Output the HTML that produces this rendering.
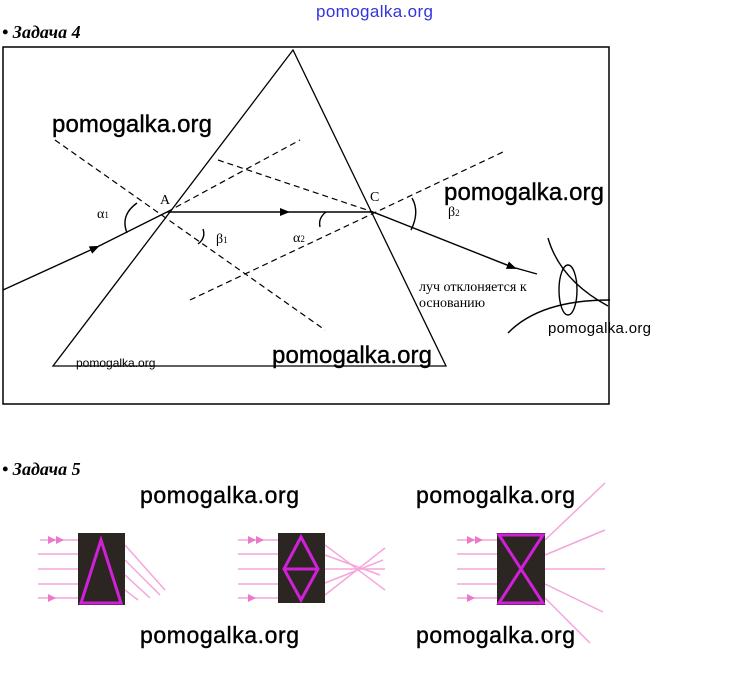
<!DOCTYPE html>
<html><head><meta charset="utf-8"><style>
body{margin:0;background:#fff;width:747px;height:688px;overflow:hidden;font-family:"Liberation Serif",serif}
</style></head><body>
<svg width="747" height="688" xmlns="http://www.w3.org/2000/svg" style="position:absolute;left:0;top:0">
<defs><marker id="ar" markerWidth="10" markerHeight="8" refX="5" refY="4" orient="auto" markerUnits="userSpaceOnUse"><path d="M0,0L10,4L0,8z" fill="#000"/></marker></defs>
<text x="316" y="17" font-family="Liberation Sans,sans-serif" font-size="17" fill="#3333dd" textLength="117">pomogalka.org</text>
<text x="2" y="38" font-size="18" font-weight="bold" font-style="italic">• Задача 4</text>
<rect x="3" y="47" width="606" height="357" fill="none" stroke="#000" stroke-width="1.5"/>
<path d="M293,50L53,366L446,366Z" fill="none" stroke="#000" stroke-width="1.3"/>
<g stroke="#000" stroke-width="1.2" stroke-dasharray="6,4" fill="none">
<line x1="55" y1="140" x2="325" y2="330"/><line x1="167" y1="212" x2="300" y2="140"/>
<line x1="218" y1="160" x2="373" y2="212"/><line x1="190" y1="300" x2="503" y2="152"/></g>
<g stroke="#000" stroke-width="1.4" fill="none">
<line x1="3" y1="290" x2="95" y2="248" marker-end="url(#ar)"/><line x1="95" y1="248" x2="167" y2="212"/>
<line x1="167" y1="212" x2="285" y2="212" marker-end="url(#ar)"/><line x1="285" y1="212" x2="373" y2="212"/>
<line x1="373" y1="212" x2="512" y2="267" marker-end="url(#ar)"/><line x1="512" y1="267" x2="537" y2="274"/>
<path d="M137,203Q120,215 127,233"/><path d="M203,229Q206,238 198,244"/><path d="M320,227Q318,218 326,212"/><path d="M412,198Q420,212 411,230"/>
<path d="M548,238Q560,280 608,306"/><ellipse cx="568" cy="290" rx="9" ry="25"/><path d="M508,333Q540,300 610,300"/></g>
<g font-size="14"><text x="160" y="204">A</text><text x="370" y="201">C</text>
<text x="97" y="218">α<tspan font-size="9">1</tspan></text><text x="216" y="243">β<tspan font-size="9">1</tspan></text>
<text x="293" y="242">α<tspan font-size="9">2</tspan></text><text x="448" y="216">β<tspan font-size="9">2</tspan></text>
<text x="419" y="291">луч отклоняется к</text><text x="419" y="307">основанию</text></g>
<g font-family="Liberation Sans,sans-serif" fill="#000" stroke="#000" stroke-width="0.4">
<text x="52" y="132" font-size="24" textLength="160">pomogalka.org</text><text x="444" y="200" font-size="24" textLength="160">pomogalka.org</text>
<text x="272" y="363" font-size="24" textLength="160">pomogalka.org</text><text x="76" y="367" font-size="12" stroke-width="0">pomogalka.org</text>
<text x="548" y="333" font-size="15" stroke-width="0" textLength="103">pomogalka.org</text>
<text x="140" y="503" font-size="23" textLength="159">pomogalka.org</text><text x="416" y="503" font-size="23" textLength="159">pomogalka.org</text>
<text x="140" y="643" font-size="23" textLength="159">pomogalka.org</text><text x="416" y="643" font-size="23" textLength="159">pomogalka.org</text></g>
<text x="2" y="475" font-size="18" font-weight="bold" font-style="italic">• Задача 5</text>
<g stroke="#f4a6dc" stroke-width="1.5" fill="none">
<line x1="38" y1="554" x2="78" y2="554"/><line x1="38" y1="569" x2="78" y2="569"/><line x1="38" y1="584" x2="78" y2="584"/><line x1="38" y1="598" x2="78" y2="598"/>
<line x1="40" y1="540" x2="78" y2="540"/>
<line x1="125" y1="545" x2="165" y2="590"/><line x1="125" y1="560" x2="160" y2="595"/><line x1="125" y1="575" x2="150" y2="598"/><line x1="125" y1="590" x2="138" y2="600"/>
<line x1="238" y1="540" x2="278" y2="540"/><line x1="238" y1="554" x2="278" y2="554"/><line x1="238" y1="569" x2="278" y2="569"/><line x1="238" y1="584" x2="278" y2="584"/><line x1="238" y1="598" x2="278" y2="598"/>
<line x1="325" y1="545" x2="385" y2="590"/><line x1="325" y1="555" x2="380" y2="575"/><line x1="325" y1="569" x2="385" y2="569"/><line x1="325" y1="583" x2="383" y2="560"/><line x1="325" y1="595" x2="385" y2="548"/>
<line x1="457" y1="540" x2="497" y2="540"/><line x1="457" y1="554" x2="497" y2="554"/><line x1="457" y1="569" x2="497" y2="569"/><line x1="457" y1="584" x2="497" y2="584"/><line x1="457" y1="598" x2="497" y2="598"/>
<line x1="545" y1="540" x2="605" y2="483"/><line x1="545" y1="555" x2="605" y2="530"/><line x1="545" y1="569" x2="605" y2="569"/><line x1="545" y1="584" x2="603" y2="612"/><line x1="545" y1="598" x2="590" y2="643"/></g>
<rect x="78" y="533" width="47" height="72" fill="#2b2622"/>
<rect x="278" y="533" width="47" height="70" fill="#2b2622"/>
<rect x="497" y="533" width="48" height="72" fill="#2b2622"/>
<g stroke="#d020d8" stroke-width="3" fill="none">
<path d="M101,540L81,603L121,603Z"/>
<path d="M301,537L284,569L301,600L318,569Z M284,569L318,569"/>
<path d="M499,535L543,535L499,603L543,603Z"/></g>
<g fill="#ee77cc"><path d="M48,536l8,4l-8,4z M56,536l8,4l-8,4z M248,536l8,4l-8,4z M256,536l8,4l-8,4z M467,536l8,4l-8,4z M475,536l8,4l-8,4z M48,594l8,4l-8,4z M248,594l8,4l-8,4z M467,594l8,4l-8,4z"/></g>
</svg>
</body></html>
